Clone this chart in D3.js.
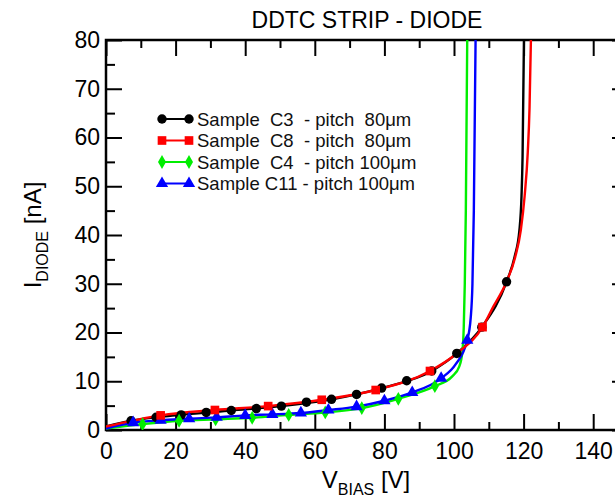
<!DOCTYPE html>
<html>
<head>
<meta charset="utf-8">
<script src="https://cdnjs.cloudflare.com/ajax/libs/d3/7.8.5/d3.min.js"></script>
<style>
  body { margin: 0; background: #fff; }
  svg { display: block; font-family: "Liberation Sans", Arial, sans-serif; }
  .tick text { font-size: 23px; fill: #000; }
</style>
</head>
<body>
<div id="chart"></div>
<script>
// V_BIAS [V] , I_DIODE [nA]
var seriesNames = ["Sample  C3  - pitch  80\u03bcm", "Sample  C8  - pitch  80\u03bcm",
                   "Sample  C4  - pitch 100\u03bcm", "Sample C11 - pitch 100\u03bcm"];
var seriesColors = ["#000000", "#ff0000", "#00ee00", "#0000ff"];
var seriesSymbols = ["circle", "square", "diamond", "triangle"];

// marker points
var c3Marks = [[7.2,1.9],[14.4,2.6],[21.6,3.1],[28.8,3.6],[36,4.0],[43.2,4.4],[50.4,4.9],[57.6,5.7],
               [64.8,6.3],[72,7.3],[79.2,8.6],[86.4,10.1],[93.6,12.1],[100.8,15.7],[108,21.1],[115.1,30.4]];
var c8Marks = [[15.7,3.0],[31.3,4.1],[46.6,4.9],[62,6.2],[77.5,8.2],[93.1,12.1],[108.2,21.1]];
var c4Marks = [[10.5,1.2],[21,1.9],[31.5,2.2],[42,2.5],[52.5,3.1],[63,3.6],[73.5,4.5],[84,6.4],[94.5,9.0]];
var c11Marks = [[7.8,1.5],[15.7,2.0],[23.9,2.3],[31.8,2.6],[40,3.0],[47.8,3.2],[56,3.5],[63.9,4.1],
                [72,4.8],[80,6.0],[88,7.7],[96.3,10.6],[103.8,18.4]];

// line points (start, and breakdown tails without markers)
var c3Line = [[0,0.7],[7.2,1.9],[21.6,3.1],[36,4.0],[50.4,4.9],[64.8,6.3],[79.2,8.6],[93.6,12.1],
              [100.8,15.7],[108,21.1],[115.1,30.4],[117.4,35.5],[118.8,41],[119.4,48],[119.7,56],[120.1,80]];
var c8Line = [[0,0.7],[15.7,3.0],[31.3,4.1],[46.6,4.9],[62,6.2],[77.5,8.2],[93.1,12.1],[100.8,15.7],
              [108.2,21.1],[111.3,25.3],[115.1,30.4],[117.6,35.5],[119.2,41],[120.3,48],[121.2,57],
              [121.7,66],[122.1,80]];
var c4Line = [[0,0.3],[10.5,1.2],[21,1.9],[31.5,2.2],[42,2.5],[52.5,3.1],[63,3.6],[73.5,4.5],[84,6.4],
              [94.5,9.0],[99.5,11.0],[101.5,13.0],[102.4,16],[102.8,21],[103.1,30],[103.4,45],[103.8,80]];
var c11Line = [[0,0.3],[7.8,1.5],[15.7,2.0],[23.9,2.3],[31.8,2.6],[40,3.0],[47.8,3.2],[56,3.5],[63.9,4.1],
               [72,4.8],[80,6.0],[88,7.7],[96.3,10.6],[100.5,13.5],[103.8,18.4],[104.8,23],[105.3,30],
               [105.7,45],[106.2,80]];

var lines = [c3Line, c8Line, c4Line, c11Line];
var marks = [c3Marks, c8Marks, c4Marks, c11Marks];

var xMajor = [0, 20, 40, 60, 80, 100, 120, 140];
var xMinor = [10, 30, 50, 70, 90, 110, 130, 150];
var yMajor = [0, 10, 20, 30, 40, 50, 60, 70, 80];
var yMinor = [5, 15, 25, 35, 45, 55, 65, 75];

var width = 615, height = 500;
var margin = {top: 40, left: 106};
var plotW = 522, plotH = 390;

var svg = d3.select("#chart").append("svg")
    .attr("width", width)
    .attr("height", height);

var x = d3.scaleLinear().domain([0, 150]).range([margin.left, margin.left + plotW]);
var y = d3.scaleLinear().domain([0, 80]).range([margin.top + plotH, margin.top]);

// clip for curves
svg.append("defs").append("clipPath").attr("id", "plotclip")
    .append("rect")
    .attr("x", x(0)).attr("y", y(80))
    .attr("width", plotW).attr("height", plotH);

// axes: ticks pointing inward
function styleAxis(g) {
    g.select(".domain").remove();
    g.selectAll(".tick line").attr("stroke", "#000").attr("stroke-width", 2);
}
var bottomY = y(0), topY = y(80);
svg.append("g").attr("transform", "translate(0," + bottomY + ")")
    .call(d3.axisBottom(x).tickValues(xMajor).tickSize(-16).tickPadding(13).tickFormat(d3.format("d")))
    .call(styleAxis);
svg.append("g").attr("transform", "translate(0," + bottomY + ")")
    .call(d3.axisBottom(x).tickValues(xMinor).tickSize(-8).tickFormat(""))
    .call(styleAxis);
svg.append("g").attr("transform", "translate(0," + topY + ")")
    .call(d3.axisTop(x).tickValues(xMajor).tickSize(-16).tickFormat(""))
    .call(styleAxis);
svg.append("g").attr("transform", "translate(0," + topY + ")")
    .call(d3.axisTop(x).tickValues(xMinor).tickSize(-8).tickFormat(""))
    .call(styleAxis);
svg.append("g").attr("transform", "translate(" + x(0) + ",0)")
    .call(d3.axisLeft(y).tickValues(yMajor).tickSize(-16).tickPadding(6).tickFormat(d3.format("d")))
    .call(styleAxis);
svg.append("g").attr("transform", "translate(" + x(0) + ",0)")
    .call(d3.axisLeft(y).tickValues(yMinor).tickSize(-9).tickFormat(""))
    .call(styleAxis);
svg.append("g").attr("transform", "translate(" + x(150) + ",0)")
    .call(d3.axisRight(y).tickValues(yMajor).tickSize(-16).tickFormat(""))
    .call(styleAxis);
svg.append("g").attr("transform", "translate(" + x(150) + ",0)")
    .call(d3.axisRight(y).tickValues(yMinor).tickSize(-9).tickFormat(""))
    .call(styleAxis);

// frame
svg.append("rect")
    .attr("x", x(0)).attr("y", y(80))
    .attr("width", plotW).attr("height", plotH)
    .attr("fill", "none").attr("stroke", "#000").attr("stroke-width", 2.5);

// curves
var line = d3.line()
    .x(function (d) { return x(d[0]); })
    .y(function (d) { return y(d[1]); })
    .curve(d3.curveMonotoneX);

var plot = svg.append("g").attr("clip-path", "url(#plotclip)");
[0, 2, 3, 1].forEach(function (i) {
    plot.append("path")
        .datum(lines[i])
        .attr("d", line)
        .attr("fill", "none")
        .attr("stroke", seriesColors[i])
        .attr("stroke-width", 2.4);
});

var symbolTypes = {
    circle: d3.symbolCircle, square: d3.symbolSquare,
    diamond: d3.symbolDiamond, triangle: d3.symbolTriangle
};
var symbolSizes = {circle: 70, square: 75, diamond: 55, triangle: 65};

function symbolPath(name) {
    return d3.symbol().type(symbolTypes[name]).size(symbolSizes[name])();
}

[0, 2, 3, 1].forEach(function (i) {
    plot.append("g").selectAll("path")
        .data(marks[i])
        .enter().append("path")
        .attr("d", symbolPath(seriesSymbols[i]))
        .attr("transform", function (d) { return "translate(" + x(d[0]) + "," + y(d[1]) + ")"; })
        .attr("fill", seriesColors[i]);
});

// legend
var legend = svg.append("g");
seriesNames.forEach(function (name, i) {
    var ly = 119 + i * 21.5;
    legend.append("line")
        .attr("x1", 162).attr("x2", 189)
        .attr("y1", ly).attr("y2", ly)
        .attr("stroke", seriesColors[i]).attr("stroke-width", 2);
    [162, 189].forEach(function (lx) {
        legend.append("path")
            .attr("d", symbolPath(seriesSymbols[i]))
            .attr("transform", "translate(" + lx + "," + ly + ")")
            .attr("fill", seriesColors[i]);
    });
    legend.append("text")
        .attr("x", 197).attr("y", ly + 6.5)
        .attr("font-size", 18.5)
        .style("white-space", "pre")
        .attr("fill", "#111")
        .text(name);
});

// title
svg.append("text")
    .attr("x", 367).attr("y", 28)
    .attr("text-anchor", "middle")
    .attr("font-size", 23)
    .text("DDTC STRIP - DIODE");

// axis titles
var xt = svg.append("text")
    .attr("x", 366).attr("y", 488)
    .attr("text-anchor", "middle")
    .attr("font-size", 24);
xt.append("tspan").text("V");
xt.append("tspan").attr("font-size", 16).attr("dy", 7).text("BIAS");
xt.append("tspan").attr("dy", -7).text(" [V]");

var yt = svg.append("text")
    .attr("transform", "translate(41,235) rotate(-90)")
    .attr("text-anchor", "middle")
    .attr("font-size", 24);
yt.append("tspan").text("I");
yt.append("tspan").attr("font-size", 16).attr("dy", 7).text("DIODE");
yt.append("tspan").attr("dy", -7).text(" [nA]");
</script>
</body>
</html>
